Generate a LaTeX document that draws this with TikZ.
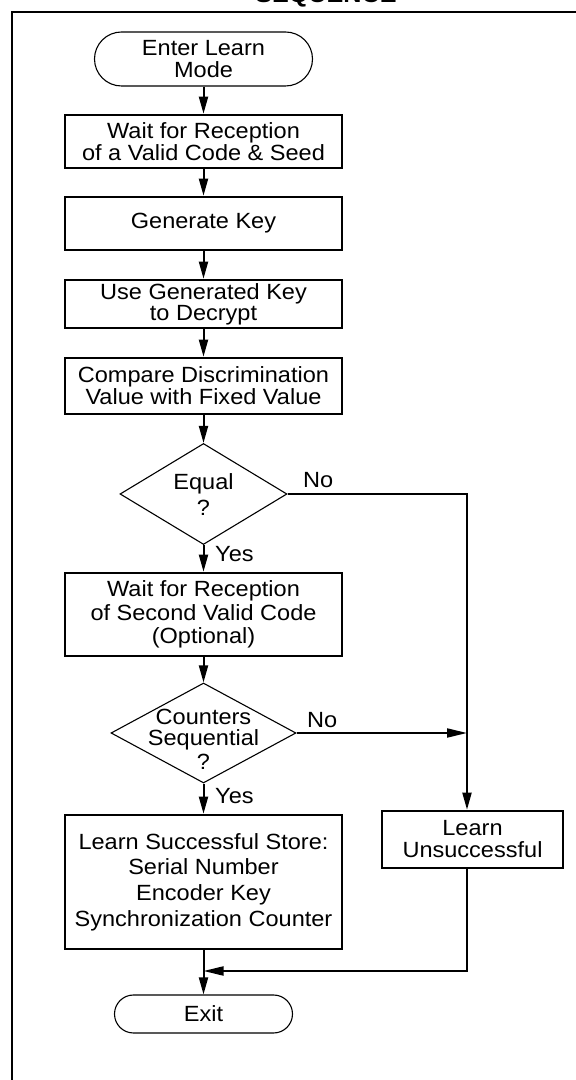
\documentclass[tikz,border=0pt]{standalone}
\usepackage{fontspec}
\setmainfont{Liberation Sans}[FakeStretch=1.07]
\usetikzlibrary{arrows.meta,shapes.geometric,shapes.misc,calc}
\newcommand\mysz{\fontsize{22}{22}\selectfont}
\newcommand\dtxt[2]{\raisebox{#1pt}[0pt][0pt]{\makebox[0pt]{\begin{tabular}{@{}c@{}}#2\end{tabular}}}}
\begin{document}
\begin{tikzpicture}[x=1pt,y=1pt,
  every node/.style={font=\mysz, inner sep=1pt},
  proc/.style={draw, line width=2.6pt, minimum width=277pt, align=center},
  term/.style={draw, rounded rectangle, line width=1.1pt, align=center},
  dia/.style={draw, diamond, line width=1.1pt, inner sep=0pt},
  conn/.style={line width=2pt},
  varr/.style={conn, -{Triangle[length=17pt,width=9pt]}},
  harr/.style={conn, -{Triangle[length=20pt,width=9pt]}},
  lbl/.style={inner sep=0pt, anchor=base west}]
\useasboundingbox (0,0) rectangle (576,1080);
\clip (0,0) rectangle (576,1080);
% title (cut at the top) and frame
\node[font=\bfseries\fontsize{23.5}{24}\selectfont, anchor=base, inner sep=0pt] (title) at (326,1077.5) {SEQUENCE};
\draw[line width=2.4pt] (12,-10) -- (12,1068) -- (600,1068);
% nodes
\node[term, minimum width=220pt, minimum height=54pt] (start) at (203.5,1021) {Enter Learn\\Mode};
\node[proc, minimum height=53pt] (b1) at (203.5,938.5) {Wait for Reception\\of a Valid Code \& Seed};
\node[proc, minimum height=53pt] (b2) at (203.5,856.5) {Generate Key};
\node[proc, minimum height=48pt] (b3) at (203.5,776) {Use Generated Key\\[-1pt]to Decrypt};
\node[proc, minimum height=56pt] (b4) at (203.5,694) {Compare Discrimination\\Value with Fixed Value};
\node[dia, minimum width=167pt, minimum height=101pt] (d1) at (203.5,586) {\dtxt{-9}{Equal\\[4pt]?}};
\node[proc, minimum height=83pt] (b5) at (203.5,465.5) {Wait for Reception\\[1.5pt]of Second Valid Code\\[1.5pt](Optional)};
\node[dia, minimum width=185pt, minimum height=100pt] (d2) at (203.5,347) {\dtxt{-15}{Counters\\[-2pt]Sequential\\[2pt]?}};
\node[proc, minimum height=134pt] (b6) at (203.5,198) {Learn Successful Store:\\[3.7pt]Serial Number\\[3.7pt]Encoder Key\\[3.7pt]Synchronization Counter};
\node[proc, minimum width=181pt, minimum height=57pt] (lu) at (472.5,240.5) {Learn\\Unsuccessful};
\node[term, minimum width=180pt, minimum height=38pt] (ex) at (203.5,66) {Exit};
\coordinate (j1) at (467,347);
\coordinate (j2) at (203.5,109);
% labels
\node[lbl] (no1) at (303,592) {No};
\node[lbl] (yes1) at (215,518) {Yes};
\node[lbl] (no2) at (307,352) {No};
\node[lbl] (yes2) at (215,276) {Yes};
% connectors
\draw[varr] (start.south) -- (b1.north);
\draw[varr] (b1.south) -- (b2.north);
\draw[varr] (b2.south) -- (b3.north);
\draw[varr] (b3.south) -- (b4.north);
\draw[varr] (b4.south) -- (d1.north);
\draw[varr] (d1.south) -- (b5.north);
\draw[varr] (b5.south) -- (d2.north);
\draw[varr] (d2.south) -- (b6.north);
\draw[varr] (d1.east) -- (d1.east -| j1) -- (lu.north -| j1);
\draw[harr] (d2.east) -- (j1);
\draw[harr] (lu.south -| j1) |- (j2);
\draw[varr] (b6.south) -- (ex.north);
\end{tikzpicture}
\end{document}
